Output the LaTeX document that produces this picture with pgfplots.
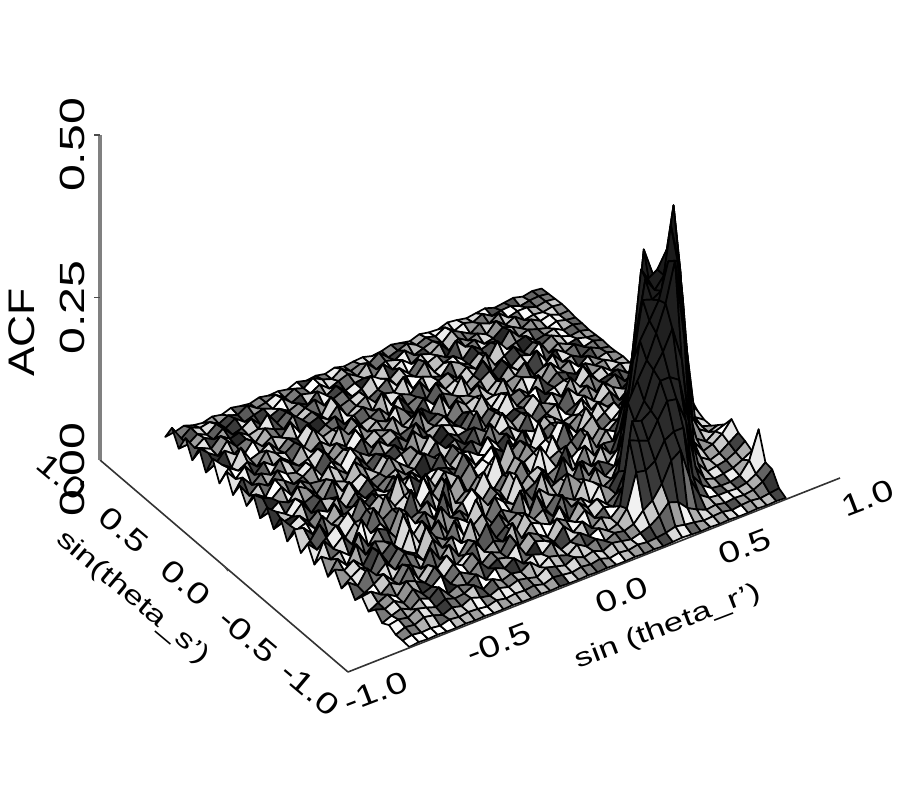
\documentclass[border=0pt]{standalone}
\usepackage{fontspec}
\setmainfont{Liberation Sans}
\usepackage{pgfplots}
\usepackage{pgfplotstable}
\pgfplotsset{compat=1.18}
\newcommand\TL[1]{\scalebox{1.28}[1]{#1}}
\newcommand\ZL[1]{\scalebox{1.38}[1]{#1}}
\newcommand\AL[1]{\scalebox{1.35}[1]{#1}}
% ACF x 1000: one row per sin(theta_s') from 0.97 down to -1, one column per sin(theta_r') from 0.78 down to -0.75
\pgfplotstableread[header=false]{
3 5 2 6 4 2 7 5 3 6  8 3 4 7 2 5 8 4 2 6  5 3 7 3 6 4 8 2 5 4  7 3 5 8 3 6 2 4 9 5  3
4 6 5 2 8 7 4 13 6 10  4 15 7 11 5 13 8 3 16 6  10 5 14 4 9 17 7 12 4 14  8 5 15 6 11 4 12 9 15 4  26
5 7 4 9 9 5 17 7 13 3  11 19 6 14 9 4 17 8 12 5  20 6 15 10 4 16 8 12 5 18  7 13 9 4 15 6 18 7 14 4  3
6 8 5 7 4 15 8 20 5 12  7 16 3 19 9 14 5 17 8 22  6 12 10 4 17 8 20 5 13 7  16 10 3 18 9 5 20 9 17 7  28
5 4 10 6 14 6 14 19 8 5  17 12 27 7 16 10 21 5 19 8  14 24 10 4 18 12 7 22 15 6  20 9 28 11 7 17 13 23 9 16  3
3 5 9 4 8 13 8 24 5 16  11 22 7 18 13 5 26 9 16 7  23 12 4 20 14 9 29 6 18 11  24 8 14 21 5 16 10 25 7 17  30
3 7 4 12 8 5 18 14 9 27  5 20 8 16 24 7 12 18 5 29  11 15 7 22 13 4 25 9 19 14  6 28 10 17 8 22 5 13 24 9  2
2 6 4 9 16 8 17 7 22 13  5 29 10 19 7 21 15 4 25 11  17 6 31 9 20 13 5 23 16 7  27 11 18 5 22 13 8 32 7 17  32
3 5 9 6 13 4 26 12 17 6  22 9 32 15 4 19 11 26 7 16  9 28 5 21 13 8 24 5 17 12  30 7 20 10 15 25 6 19 11 21  3
4 9 5 15 8 18 6 28 13 9  21 5 25 16 7 34 11 19 8 23  5 15 28 10 17 6 22 13 31 7  19 9 25 5 16 11 22 8 27 13  30
3 6 13 4 12 8 25 12 5 30  15 10 19 7 24 13 18 5 32 9  22 14 6 26 11 17 7 29 9 20  5 23 13 8 18 30 11 19 7 24  3
4 9 5 15 4 19 11 27 7 16  22 5 31 11 8 20 14 26 6 17  9 35 12 7 21 15 5 25 10 19  8 27 6 22 12 16 27 9 18 5  26
6 4 12 9 18 7 15 21 9 28  5 18 13 23 7 32 10 16 5 22  13 8 29 6 19 11 24 7 17 31  9 21 5 25 15 9 20 28 6 16  4
5 10 4 16 9 29 5 18 13 8  25 15 7 33 11 20 5 27 9 17  23 7 15 31 6 21 12 19 8 26  5 17 29 11 13 23 7 25 13 19  30
8 4 15 12 8 24 11 31 7 19  5 27 13 17 9 23 6 36 13 10  19 7 28 5 22 16 9 25 7 18  33 8 14 23 6 20 29 10 17 7  3
7 13 6 22 15 6 22 13 29 8  17 24 5 20 11 31 7 15 26 6  19 11 27 9 21 5 17 33 12 7  23 14 8 30 5 19 13 25 7 16  28
6 10 18 9 17 30 7 21 12 5  25 16 9 28 6 19 13 35 7 20  10 25 6 17 29 11 8 22 15 5  24 9 31 7 17 21 6 27 12 9  4
10 18 9 18 6 25 14 8 31 11  7 19 27 9 16 5 23 12 29 7  18 22 8 33 11 5 20 14 26 7  17 9 24 6 28 11 19 7 22 13  30
14 9 26 12 20 8 16 29 6 22  11 7 25 17 5 31 13 9 21 16  6 27 10 19 24 7 15 30 8 20  5 25 13 17 8 32 9 5 20 15  3
25 36 70 40 15 10 32 22 12 41  8 26 35 14 47 11 30 18 9 38  24 13 44 17 28 10 36 7 25 52  12 31 19 40 9 23 15 34 11 27  30
40 30 60 150 140 80 30 18 9 37  24 13 44 10 29 20 34 12 50 16  26 8 39 21 11 33 15 46 9 28  18 41 7 30 13 37 22 10 35 16  3
50 150 150 205 257 170 70 30 18 27  9 37 24 13 44 10 29 20 34 12  50 16 26 8 39 21 11 33 15 46  9 28 18 41 7 30 13 37 24 11  26
30 186 220 220 243 288 140 60 25 33  12 41 19 8 30 23 48 11 36 15  27 9 43 18 24 12 55 10 32 20  14 38 8 26 17 44 11 29 16 34  3
20 40 260 300 245 235 272 140 70 25  27 14 35 10 46 19 12 31 24 8  40 16 29 11 37 22 9 49 13 30  18 42 7 25 33 12 38 9 21 14  24
15 25 150 317 300 275 266 210 110 50  20 38 12 26 17 43 9 34 21 13  45 10 28 15 36 8 24 19 41 11  31 14 52 9 22 28 13 35 8 24  2
15 20 40 225 377 275 258 280 195 90  35 20 29 13 39 11 25 18 47 9  32 14 23 37 10 44 16 27 8 35  20 12 40 7 29 16 33 11 25 15  22
25 20 30 60 286 360 266 258 263 177  70 25 15 33 9 27 42 12 21 35  8 44 17 26 11 31 19 9 38 14  24 46 10 18 30 12 36 8 22 13  2
35 30 20 30 80 315 320 266 240 215  130 50 20 12 26 36 10 19 29 13  41 7 24 15 34 20 9 43 12 28  16 35 8 22 31 11 27 14 30 9  20
52 35 25 20 40 200 330 270 230 194  168 140 40 20 31 9 22 14 38 11  27 18 33 8 24 12 40 17 26 7  30 13 36 10 21 28 9 25 15 7  2
40 30 20 15 25 50 186 240 210 188  146 120 50 20 10 24 16 30 8 35  13 20 27 9 38 15 22 11 32 18  7 28 14 25 9 34 12 20 8 18  16
36 25 18 15 12 30 100 170 180 180  140 130 135 40 15 20 9 27 14 22  31 8 18 26 11 34 13 19 7 29  16 24 9 31 12 20 26 8 17 10  2
30 22 15 12 10 15 40 115 155 158  134 108 114 120 25 12 19 8 24 13  28 10 17 22 7 30 14 18 9 25  12 20 8 27 15 10 23 7 16 9  14
72 30 12 8 8 10 20 40 120 120  112 86 77 80 30 12 7 17 10 21  13 7 24 11 16 8 22 12 18 6  20 10 14 7 23 11 17 6 13 8  2
30 18 10 7 8 8 10 20 50 100  90 60 40 30 15 10 13 6 15 9  18 7 12 16 6 19 10 13 8 16  6 18 11 9 14 7 12 16 8 11  8
28 15 8 6 7 5 8 6 12 20  35 40 25 15 10 6 9 12 5 11  7 13 6 10 14 5 9 12 7 11  5 8 13 6 10 4 9 12 6 8  2
8 6 4 6 5 3 6 5 4 7  9 12 8 6 5 7 4 6 3 8  5 7 4 6 8 3 7 5 6 4  7 3 5 6 4 6 2 4 3 5  2
2 3 2 3 2 2 3 2 3 2  3 4 3 2 3 2 3 2 2 3  2 3 2 2 3 2 3 2 2 3  2 2 3 2 3 2 2 3 2 3  1
}\zdata
\newtoks\coordtoks
\pgfplotsset{mysurf/.style={surf, shader=faceted, point meta=z, point meta min=0, point meta max=0.4,
 colormap={w}{color(0)=(white) color(0.008)=(white) color(0.012)=(black!75) color(0.018)=(white) color(0.022)=(black!80) color(0.03)=(white) color(0.035)=(black!85) color(0.045)=(white) color(0.055)=(black!75) color(0.065)=(white) color(0.08)=(black!85) color(0.095)=(white) color(0.12)=(black!75) color(0.2)=(black!80) color(0.4)=(black!85) color(1)=(black!92)},
 faceted color=black, line width=1.7pt, line join=round, mesh/cols=41}}
\begin{document}
\foreach \i in {0,...,36}{\foreach \j in {0,...,40}{%
  \pgfplotstablegetelem{\i}{[index]\j}\of\zdata
  \pgfmathsetmacro\xx{0.78-0.03825*\j}%
  \pgfmathsetmacro\yy{0.97-0.0547*\i}%
  \pgfmathsetmacro\zz{\pgfplotsretval/1000}%
  \edef\tmp{(\xx,\yy,\zz) }%
  \global\coordtoks\expandafter\expandafter\expandafter{\expandafter\the\expandafter\coordtoks\tmp}%
}}%
\begin{tikzpicture}
\useasboundingbox (0,0) rectangle (900pt,800pt);
\begin{axis}[
  at={(470pt,331pt)}, anchor=origin,
  x={(246pt,97pt)}, y={(-124pt,106pt)}, z={(0pt,650pt)},
  xmin=-1,xmax=1,ymin=-1,ymax=1,zmin=0,zmax=0.5,
  clip=false, axis line style={draw=none},
  xtick={-1,-0.5,0,0.5,1}, ytick={-1,-0.5,0,0.5,1}, ztick={0,0.25,0.5},
  xticklabels={\TL{-1.0},\TL{-0.5},\TL{0.0},\TL{0.5},\TL{1.0}},
  yticklabels={\TL{-1.0},\TL{-0.5},\TL{0.0},\TL{0.5},\TL{1.0}},
  zticklabels={\ZL{0.00},\ZL{0.25},\ZL{0.50}},
  tick style={draw=none},
  xticklabel style={font=\fontsize{30}{32}\selectfont,anchor=center,inner sep=0pt,xshift=28pt,yshift=-20pt,rotate=21},
  yticklabel style={font=\fontsize{30}{32}\selectfont,anchor=center,inner sep=0pt,xshift=-38pt,yshift=-17pt,rotate=-40},
  zticklabel style={font=\fontsize{35}{37}\selectfont,anchor=center,inner sep=0pt,xshift=-28pt,yshift=-10pt,rotate=90},
  xlabel={\AL{sin (theta\_r')}}, ylabel={\AL{sin(theta\_s')}}, zlabel={\scalebox{1.2}[1]{ACF}},
  xlabel style={font=\fontsize{26}{28}\selectfont,at={(axis cs:0,-1,0)},anchor=center,inner sep=0pt,xshift=74pt,yshift=-52pt,rotate=21},
  ylabel style={font=\fontsize{26}{28}\selectfont,at={(axis cs:-1,0,0)},anchor=center,inner sep=0pt,xshift=-91pt,yshift=-32pt,rotate=-40},
  zlabel style={font=\fontsize{37}{39}\selectfont,at={(axis cs:-1,1,0.25)},anchor=center,inner sep=0pt,xshift=-35pt,yshift=78pt,rotate=0},
]
\edef\plotcmd{\noexpand\addplot3[mysurf] coordinates {\the\coordtoks};}
\plotcmd
\draw[black!80,line width=1.6pt] (axis cs:-1,-1,0) -- (axis cs:1,-1,0);
\draw[black!80,line width=1.6pt] (axis cs:-1,-1,0) -- (axis cs:-1,1,0);
\draw[black!50,line width=3.5pt] (axis cs:-1,1,0) -- (axis cs:-1,1,0.5);
\draw[black!70,line width=1.2pt] (axis cs:-1,1,0.25) -- ++(-6pt,0pt);
\draw[black!70,line width=1.2pt] (axis cs:-1,1,0.5) -- ++(-6pt,0pt);
\draw[black!70,line width=1.2pt] (axis cs:-1,0,0) -- ++(4pt,-5pt);
\end{axis}
\end{tikzpicture}
\end{document}
